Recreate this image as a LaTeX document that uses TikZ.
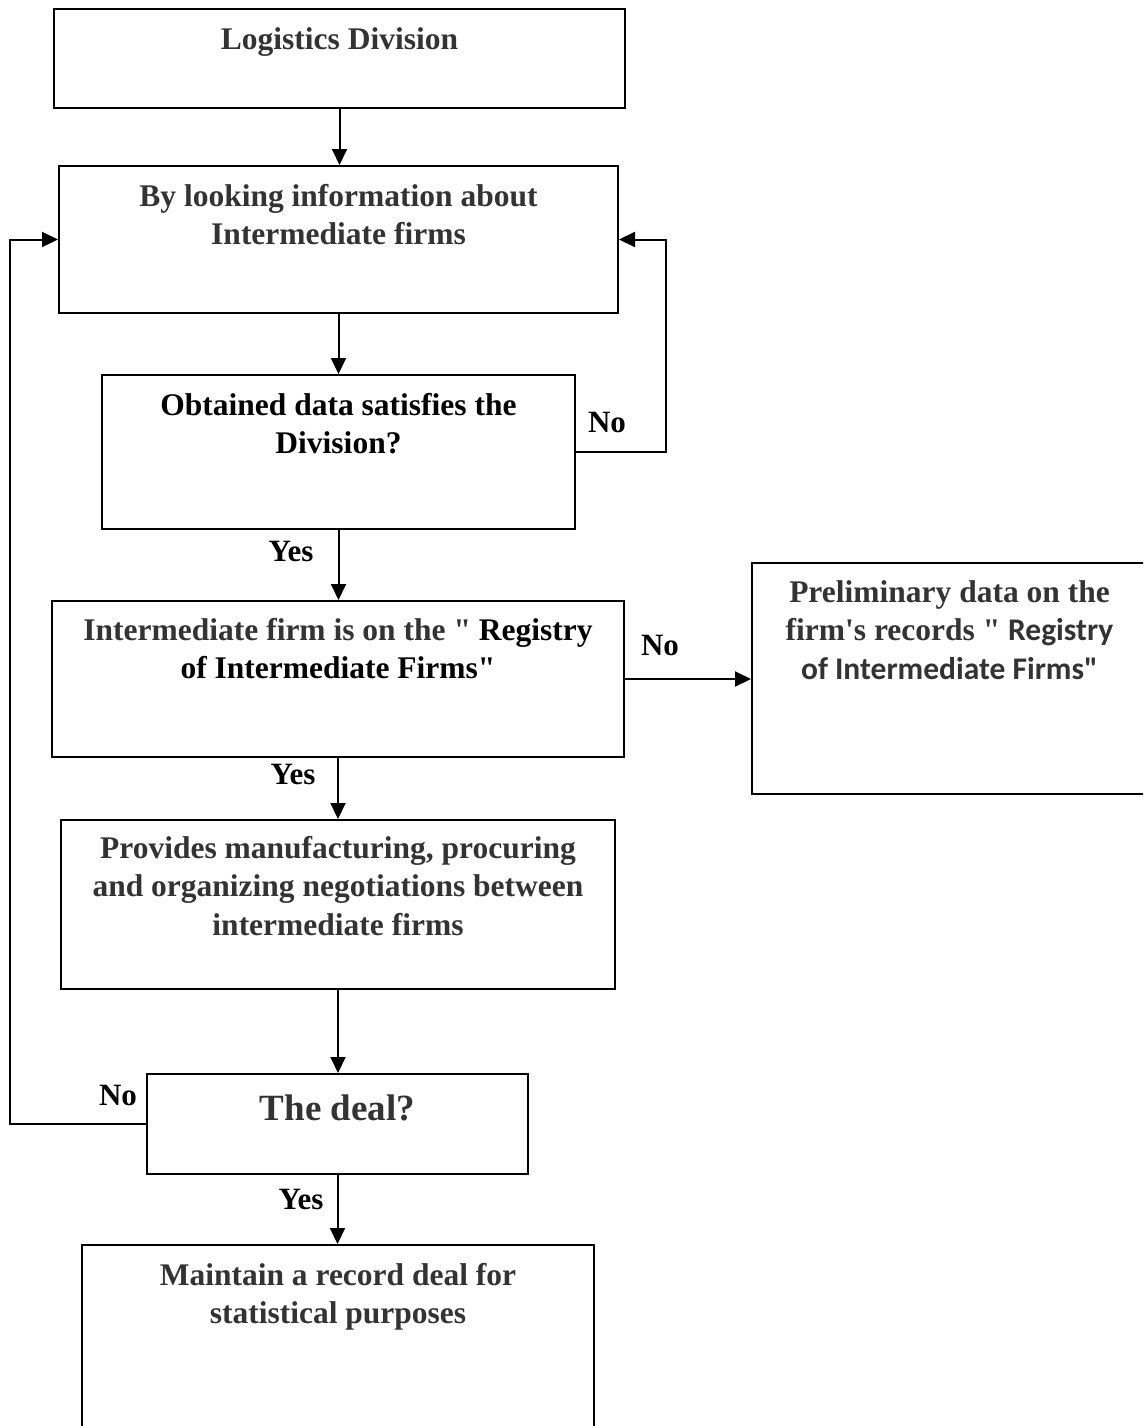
\documentclass[tikz,border=0pt]{standalone}
\usepackage{fontspec}
\setmainfont{Liberation Serif}
\newfontfamily\calfont{Carlito}
\usetikzlibrary{arrows.meta}
\definecolor{txtgray}{HTML}{333333}
\begin{document}
\begin{tikzpicture}[x=1pt,y=-1pt,
  box/.style={draw=black,line width=2pt,rectangle,inner sep=0pt},
  txt/.style={anchor=north,align=center,inner sep=0pt,text=txtgray,font=\bfseries\fontsize{31.5}{38.5}\selectfont},
  lbl/.style={inner sep=0pt,text=black,font=\bfseries\fontsize{31}{36}\selectfont},
  arr/.style={line width=2pt,-{Triangle[length=16pt,width=15pt]}},
  conn/.style={line width=2pt}]
\path[use as bounding box,fill=white] (0,0) rectangle (1143,1426);
\clip (0,0) rectangle (1143,1426);

% boxes
\node[box,minimum width=571pt,minimum height=99pt] (b1) at (339.5,58.5) {};
\node[box,minimum width=559pt,minimum height=147pt] (b2) at (338.5,239.5) {};
\node[box,minimum width=473pt,minimum height=154pt] (b3) at (338.5,452) {};
\node[box,minimum width=572pt,minimum height=156pt] (b4) at (338,679) {};
\node[box,minimum width=395pt,minimum height=231pt] (b6) at (949.5,678.5) {};
\node[box,minimum width=554pt,minimum height=169pt] (b5) at (338,904.5) {};
\node[box,minimum width=381pt,minimum height=100pt] (b7) at (337.5,1124) {};
\node[box,minimum width=512pt,minimum height=215pt] (b8) at (338,1352.5) {};

% texts
\node[txt] (t1) at ([yshift=-19pt]b1.north) {Logistics Division};
\node[txt] (t2) at ([yshift=-19pt]b2.north) {By looking information about\\Intermediate firms};
\node[txt,text=black] (t3) at ([yshift=-19pt]b3.north) {Obtained data satisfies the\\Division?};
\node[txt] (t4) at ([yshift=-18pt]b4.north) {Intermediate firm is on the \textquotedbl{} {\color{black}Registry}\\{\color{black}of Intermediate Firms\textquotedbl}};
\node[txt] (t6) at ([yshift=-18pt]b6.north) {Preliminary data on the\\firm\textquotesingle s records \textquotedbl{} {\calfont Registry}\\{\calfont of Intermediate Firms\textquotedbl}};
\node[txt] (t5) at ([yshift=-17pt]b5.north) {Provides manufacturing, procuring\\and organizing negotiations between\\intermediate firms};
\node[txt,font=\bfseries\fontsize{37}{44}\selectfont] (t7) at ([yshift=-22pt]b7.north) {The deal?};
\node[txt] (t8) at ([yshift=-19pt]b8.north) {Maintain a record deal for\\statistical purposes};

% labels
\node[lbl] (no1) at (607,422) {No};
\node[lbl] (no2) at (660,645) {No};
\node[lbl] (no3) at (118,1095) {No};
\node[lbl] (yes1) at (291,551) {Yes};
\node[lbl] (yes2) at (293,774) {Yes};
\node[lbl] (yes3) at (301,1199) {Yes};

% corner coordinates
\coordinate (rc) at (666,239.5);
\coordinate (lc) at (10,239.5);

% connectors
\draw[arr] (b1.south) -- (b1.south |- b2.north);
\draw[arr] (b2.south) -- (b2.south |- b3.north);
\draw[arr] (b3.south) -- (b3.south |- b4.north);
\draw[arr] (b4.south) -- (b4.south |- b5.north);
\draw[arr] (b5.south) -- (b5.south |- b7.north);
\draw[arr] (b7.south) -- (b7.south |- b8.north);
\draw[arr] (b4.east) -- (b4.east -| b6.west);
\draw[arr] (b3.east) -| (rc) -- (b2.east);
\draw[arr] (b7.west) -| (lc) -- (b2.west);
\end{tikzpicture}
\end{document}
